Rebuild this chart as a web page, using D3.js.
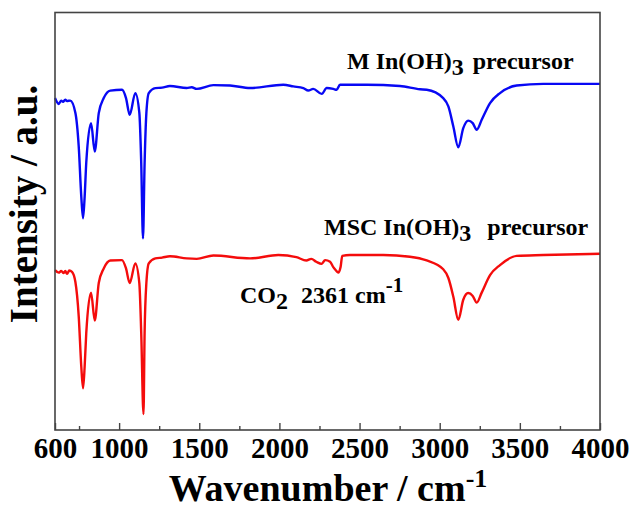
<!DOCTYPE html>
<html>
<head>
<meta charset="utf-8">
<script src="https://cdn.jsdelivr.net/npm/d3@7/dist/d3.min.js"></script>
<style>
  html, body { margin: 0; padding: 0; background: #fff; }
  svg { display: block; }
  text { font-family: "Liberation Serif", "Times New Roman", serif; font-weight: bold; fill: #000; }
</style>
</head>
<body>
<svg id="chart" width="635" height="509"></svg>
<script>
// ---- data ----
const wnM = [600,623,639,650,664,675,695,727,748,764,775,785,795,825,848,873,904,945,1018,1043,1066,1101,1126,1138,1149,1159,1170,1185,1226,1268,1317,1422,1453,1484,1588,1692,1817,2024,2087,2149,2180,2211,2264,2295,2336,2357,2378,2545,2752,2877,2919,3022,3054,3085,3116,3147,3178,3206,3231,3262,3314,3376,3480,3646,4000];
const intM = [79.5,78.1,78.9,78.6,79.1,78.8,78.9,76.0,67.9,55.9,50.7,55.9,64.0,73.5,66.7,75.9,79.5,81.3,81.5,79.5,75.5,80.7,76.0,63.9,45.9,63.9,75.9,80.7,81.9,82.0,82.4,81.9,82.1,81.7,82.6,82.5,81.9,82.7,82.3,81.9,81.3,81.7,80.5,81.9,81.7,81.5,82.7,82.7,82.4,81.6,81.5,79.5,77.5,72.7,67.7,72.3,74.1,73.5,71.9,74.3,78.3,80.7,82.5,82.9,82.9];

const wnMSC = [600,623,639,654,664,675,689,706,727,748,764,775,785,795,825,848,873,904,945,1018,1043,1066,1101,1126,1138,1152,1159,1170,1185,1226,1268,1317,1422,1484,1588,1817,1993,2106,2168,2199,2230,2264,2285,2316,2336,2353,2367,2382,2392,2440,2648,2814,2919,3022,3054,3085,3116,3147,3178,3206,3231,3262,3314,3376,3480,3646,4000];
const intMSC = [38.3,37.7,38.1,37.6,38.1,37.4,38.2,37.9,35.5,27.2,15.2,10.0,15.2,23.2,32.9,26.2,35.2,38.7,40.6,40.7,38.7,35.2,39.9,35.2,23.2,3.8,23.2,35.2,39.9,41.1,41.3,41.6,41.1,41.0,41.8,41.1,41.9,41.4,40.6,41.0,40.3,39.8,40.7,40.3,39.0,38.2,37.7,39.1,41.7,41.9,41.9,41.5,40.6,38.5,36.4,31.9,26.4,31.2,32.8,32.1,30.5,32.9,37.1,39.5,41.7,41.9,42.2];

const majorTicks = [600,1000,1500,2000,2500,3000,3500,4000];
const minorTicks = [750,1250,1750,2250,2750,3250,3750];
const xDomain = [600, 4000];
const yDomain = [0, 100];

// ---- layout ----
const svg = d3.select("#chart");
const L = 55, R = 600, T = 12.5, B = 430;

const x = d3.scaleLinear().domain(xDomain).range([L, R]);
const y = d3.scaleLinear().domain(yDomain).range([B, T]);

const line = d3.line()
  .x(d => x(d[0]))
  .y(d => y(d[1]))
  .curve(d3.curveMonotoneX);

const series = [
  { wn: wnM, v: intM, color: "#0808f4" },
  { wn: wnMSC, v: intMSC, color: "#f40c0c" }
];

series.forEach(s => {
  svg.append("path")
    .datum(s.wn.map((w, i) => [w, s.v[i]]))
    .attr("fill", "none")
    .attr("stroke", s.color)
    .attr("stroke-width", 2.4)
    .attr("stroke-linejoin", "round")
    .attr("d", line);
});

// frame
svg.append("rect")
  .attr("x", L).attr("y", T)
  .attr("width", R - L).attr("height", B - T)
  .attr("fill", "none")
  .attr("stroke", "#444")
  .attr("stroke-width", 1.6);

// bottom axis: major ticks (inward) + labels
const axMajor = d3.axisBottom(x)
  .tickValues(majorTicks)
  .tickSizeInner(-7).tickSizeOuter(0)
  .tickFormat(d3.format("d"));
const gx = svg.append("g").attr("transform", `translate(0,${B})`).call(axMajor);
gx.select(".domain").remove();
gx.selectAll(".tick line").attr("stroke", "#444").attr("stroke-width", 1.4);
gx.selectAll(".tick text")
  .attr("y", 28).attr("dy", 0)
  .style("font-size", "29px")
  .style("font-family", "'Liberation Serif', serif")
  .style("font-weight", "bold")
  .attr("fill", "#000");

const axMinor = d3.axisBottom(x)
  .tickValues(minorTicks)
  .tickSizeInner(-4).tickSizeOuter(0)
  .tickFormat("");
const gm = svg.append("g").attr("transform", `translate(0,${B})`).call(axMinor);
gm.select(".domain").remove();
gm.selectAll(".tick line").attr("stroke", "#444").attr("stroke-width", 1.4);

// axis titles
const xt = svg.append("text")
  .attr("x", 328).attr("y", 501)
  .attr("text-anchor", "middle")
  .style("font-size", "38px");
xt.append("tspan").text("Wavenumber / cm");
xt.append("tspan").attr("dy", -14).style("font-size", "26px").text("-1");

svg.append("text")
  .attr("transform", "translate(37,204) rotate(-90)")
  .attr("text-anchor", "middle")
  .style("font-size", "39px")
  .text("Intensity / a.u.");

// annotations
function label(xp, yp, parts, size) {
  const t = svg.append("text").attr("x", xp).attr("y", yp).style("font-size", size + "px");
  parts.forEach(p => {
    const ts = t.append("tspan").text(p.t);
    if (p.dy) ts.attr("dy", p.dy);
    if (p.size) ts.style("font-size", p.size + "px");
    if (p.dx) ts.attr("dx", p.dx);
  });
}
label(347, 69, [{t: "M In(OH)"}, {t: "3", dy: 6}, {t: "precursor", dy: -6, dx: 9}], 24);
label(324, 235, [{t: "MSC In(OH)"}, {t: "3", dy: 6}, {t: "precursor", dy: -6, dx: 16}], 24);
label(240, 303, [{t: "CO"}, {t: "2", dy: 6}, {t: "2361 cm", dy: -6, dx: 13}, {t: "-1", dy: -11, size: 21}], 24);
</script>
</body>
</html>
